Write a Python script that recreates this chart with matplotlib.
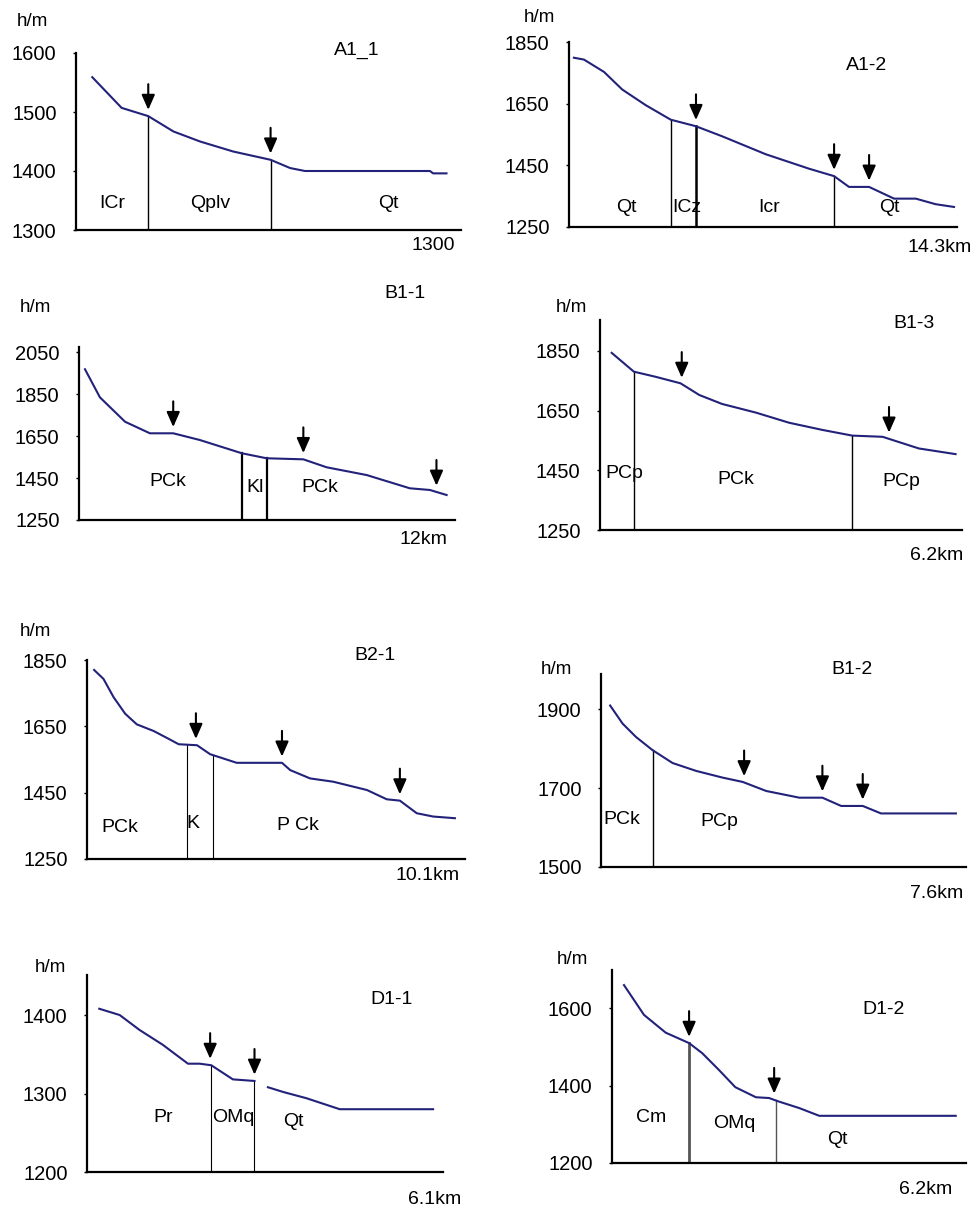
import matplotlib.pyplot as plt
import numpy as np

plt.rcParams['font.family'] = ['Liberation Sans', 'DejaVu Sans']

W, H = 978, 1211

# profile A1_1 (distance in m)
a11_x = [55, 154, 244, 329, 419, 531, 657, 723, 773, 1195, 1206, 1251]
a11_h = [1559, 1507, 1493, 1467, 1450, 1433, 1419, 1405, 1400, 1400, 1396, 1396]
a11_contacts = [244, 657]
a11_knicks = [244, 657]
a11_units = ['ICr', 'Qplv', 'Qt']
a11_yticks = [1300, 1400, 1500, 1600]

# profile A1-2 (km)
a12_x = [0.18, 0.55, 1.29, 1.96, 2.83, 3.75, 4.67, 5.65, 7.25, 8.85, 9.77, 10.32, 11.06, 11.98, 12.78, 13.51, 14.19]
a12_h = [1799, 1793, 1753, 1696, 1645, 1598, 1577, 1544, 1486, 1439, 1415, 1380, 1380, 1342, 1342, 1324, 1315]
a12_contacts = [3.76, 4.68, 9.77]
a12_knicks = [4.68, 9.77, 11.06]
a12_units = ['Qt', 'ICz', 'Icr', 'Qt']
a12_yticks = [1250, 1450, 1650, 1850]

# profile B1-1
b11_x = [0.2, 0.7, 1.54, 2.37, 3.15, 4.04, 5.44, 6.27, 7.5, 8.28, 9.62, 11.06, 11.73, 12.29]
b11_h = [1968, 1834, 1718, 1663, 1663, 1631, 1568, 1544, 1539, 1501, 1464, 1401, 1393, 1369]
b11_contacts = [5.44, 6.3]
b11_knicks = [3.15, 7.5, 11.95]
b11_units = ['PCk', 'Kl', 'PCk']
b11_yticks = [1250, 1450, 1650, 1850, 2050]

# profile B1-3
b13_x = [0.2, 0.58, 0.95, 1.38, 1.7, 2.09, 2.67, 3.24, 3.81, 4.32, 4.84, 5.46, 6.09]
b13_h = [1843, 1780, 1763, 1741, 1702, 1672, 1643, 1609, 1585, 1566, 1562, 1523, 1504]
b13_contacts = [0.58, 4.32]
b13_knicks = [1.4, 4.95]
b13_units = ['PCp', 'PCk', 'PCp']
b13_yticks = [1250, 1450, 1650, 1850]

# profile B2-1
b21_x = [0.19, 0.44, 0.71, 1.02, 1.33, 1.78, 2.22, 2.45, 2.94, 3.29, 4.0, 5.21, 5.43, 5.96, 6.58, 7.48, 8.01, 8.36, 8.81, 9.25, 9.83]
b21_h = [1820, 1793, 1738, 1688, 1656, 1636, 1610, 1596, 1593, 1566, 1540, 1540, 1518, 1493, 1483, 1458, 1430, 1426, 1388, 1378, 1373]
b21_contacts = [2.66, 3.38]
b21_knicks = [2.91, 5.21, 8.36]
b21_units = ['PCk', 'K', 'P Ck']
b21_yticks = [1250, 1450, 1650, 1850]

# profile B1-2
b12_x = [0.19, 0.45, 0.73, 1.07, 1.49, 1.98, 2.53, 2.95, 3.44, 4.13, 4.61, 5.0, 5.45, 5.83, 7.39]
b12_h = [1910, 1864, 1830, 1797, 1764, 1744, 1727, 1716, 1693, 1676, 1676, 1655, 1655, 1636, 1636]
b12_contacts = [1.08]
b12_knicks = [2.98, 4.61, 5.45]
b12_units = ['PCk', 'PCp']
b12_yticks = [1500, 1700, 1900]

# profile D1-1 (line is broken after OMq)
d11_x = [0.21, 0.56, 0.9, 1.3, 1.73, 1.93, 2.13, 2.5, 2.87, 2.98, 3.1, 3.36, 3.76, 4.33, 5.93]
d11_h = [1408, 1400, 1381, 1362, 1338, 1338, 1336, 1318, 1316, np.nan, 1308, 1302, 1294, 1280, 1280]
d11_contacts = [2.13, 2.87]
d11_knicks = [2.11, 2.87]
d11_units = ['Pr', 'OMq', 'Qt']
d11_yticks = [1200, 1300, 1400]

# profile D1-2
d12_x = [0.21, 0.56, 0.94, 1.35, 1.58, 1.87, 2.16, 2.52, 2.75, 2.92, 3.28, 3.63, 6.02]
d12_h = [1660, 1583, 1537, 1510, 1484, 1441, 1396, 1370, 1368, 1359, 1342, 1322, 1322]
d12_contacts = [1.34, 2.87]
d12_knicks = [1.35, 2.84]
d12_units = ['Cm', 'OMq', 'Qt']
d12_yticks = [1200, 1400, 1600]


def fxy(x, y):
    # pixel position -> figure fraction
    return x / W, 1 - y / H


def height_at(xs, hs, x0):
    xs = np.asarray(xs, float)
    hs = np.asarray(hs, float)
    ok = ~np.isnan(hs)
    return np.interp(x0, xs[ok], hs[ok])


def draw_panel(fig, p):
    x0, x1, y0, y1 = p['box']
    ax = fig.add_axes([x0 / W, 1 - y1 / H, (x1 - x0) / W, (y1 - y0) / H])
    ax.set_xlim(*p['xlim'])
    ax.set_ylim(*p['ylim'])
    for s in ['top', 'right']:
        ax.spines[s].set_visible(False)
    for s in ['left', 'bottom']:
        ax.spines[s].set_linewidth(1.6)
        ax.spines[s].set_color('black')
    ax.set_xticks([])
    ax.set_yticks(p['yticks'])
    ax.tick_params(axis='y', length=2, width=1, pad=12, labelsize=14.5)
    ax.patch.set_alpha(0)

    ax.plot(p['x'], p['h'], color='#22227a', lw=1.5, zorder=3)

    for c, lw in zip(p['contacts'], p['clw']):
        top = height_at(p['x'], p['h'], c)
        ax.plot([c, c], [p['ylim'][0], top], color=p.get('ccol', 'black'), lw=lw, zorder=2)

    for k in p['knicks']:
        top = height_at(p['x'], p['h'], k)
        ax.annotate('', xy=(k, top), xytext=(0, 23), textcoords='offset points',
                    xycoords='data',
                    arrowprops=dict(arrowstyle='-|>,head_length=0.5,head_width=0.22',
                                    color='black', lw=1.5,
                                    mutation_scale=18, shrinkA=0, shrinkB=4.5))

    for name, (ux, uy) in zip(p['units'], p['unit_pos']):
        fig.text(*fxy(ux, uy), name, ha='center', va='center', fontsize=14)

    fig.text(*fxy(*p['title_pos']), p['title'], ha='center', va='center', fontsize=14)
    fig.text(*fxy(*p['hm_pos']), 'h/m', ha='center', va='center', fontsize=13.5)
    fig.text(*fxy(*p['km_pos']), p['km'], ha='center', va='center', fontsize=14)
    return ax


def main():
    fig = plt.figure(figsize=(W / 100, H / 100), dpi=100)
    fig.patch.set_facecolor('white')

    panels = [
        dict(box=(76, 461, 53, 230), xlim=(0, 1300), ylim=(1300, 1600),
             x=a11_x, h=a11_h, yticks=a11_yticks,
             contacts=a11_contacts, clw=[1.0, 1.0], knicks=a11_knicks,
             units=a11_units, unit_pos=[(112, 204), (210, 204), (388, 204)],
             title='A1_1', title_pos=(357, 50), hm_pos=(32, 22), km='1300', km_pos=(433, 245)),
        dict(box=(569, 957, 42, 227), xlim=(0, 14.3), ylim=(1250, 1850),
             x=a12_x, h=a12_h, yticks=a12_yticks,
             contacts=a12_contacts, clw=[1.0, 1.8, 1.0], knicks=a12_knicks,
             units=a12_units, unit_pos=[(626, 207), (687, 207), (769, 207), (889, 207)],
             title='A1-2', title_pos=(867, 65), hm_pos=(539, 18), km='14.3km', km_pos=(940, 247)),
        dict(box=(79, 455, 347, 520), xlim=(0, 12.57), ylim=(1250, 2074),
             x=b11_x, h=b11_h, yticks=b11_yticks,
             contacts=b11_contacts, clw=[1.6, 1.6], knicks=b11_knicks,
             units=b11_units, unit_pos=[(168, 482), (255, 488), (320, 488)],
             title='B1-1', title_pos=(405, 293), hm_pos=(35, 307), km='12km', km_pos=(423, 540)),
        dict(box=(600, 962, 320, 530), xlim=(0, 6.2), ylim=(1250, 1953),
             x=b13_x, h=b13_h, yticks=b13_yticks,
             contacts=b13_contacts, clw=[1.0, 1.0], knicks=b13_knicks,
             units=b13_units, unit_pos=[(624, 473), (736, 480), (901, 482)],
             title='B1-3', title_pos=(914, 323), hm_pos=(571, 307), km='6.2km', km_pos=(937, 555)),
        dict(box=(87, 465, 660, 859), xlim=(0, 10.1), ylim=(1250, 1847),
             x=b21_x, h=b21_h, yticks=b21_yticks,
             contacts=b21_contacts, clw=[0.8, 0.8], knicks=b21_knicks,
             units=b21_units, unit_pos=[(120, 827), (193, 823), (298, 825)],
             title='B2-1', title_pos=(375, 655), hm_pos=(35, 632), km='10.1km', km_pos=(428, 876)),
        dict(box=(601, 966, 674, 867), xlim=(0, 7.6), ylim=(1500, 1990),
             x=b12_x, h=b12_h, yticks=b12_yticks,
             contacts=b12_contacts, clw=[1.0], knicks=b12_knicks,
             units=b12_units, unit_pos=[(622, 820), (719, 821)],
             title='B1-2', title_pos=(852, 670), hm_pos=(556, 670), km='7.6km', km_pos=(937, 893)),
        dict(box=(87, 443, 975, 1172), xlim=(0, 6.1), ylim=(1200, 1451),
             x=d11_x, h=d11_h, yticks=d11_yticks,
             contacts=d11_contacts, clw=[0.8, 0.8], knicks=d11_knicks,
             units=d11_units, unit_pos=[(163, 1117), (233, 1117), (293, 1121)],
             title='D1-1', title_pos=(392, 1000), hm_pos=(50, 967), km='6.1km', km_pos=(435, 1200)),
        dict(box=(612, 966, 970, 1163), xlim=(0, 6.2), ylim=(1200, 1699),
             x=d12_x, h=d12_h, yticks=d12_yticks,
             contacts=d12_contacts, clw=[2.0, 1.0], ccol='#555555', knicks=d12_knicks,
             units=d12_units, unit_pos=[(651, 1117), (734, 1123), (837, 1140)],
             title='D1-2', title_pos=(884, 1010), hm_pos=(572, 960), km='6.2km', km_pos=(926, 1190)),
    ]

    for p in panels:
        draw_panel(fig, p)

    fig.savefig('out.png', dpi=100, facecolor='white')


if __name__ == '__main__':
    main()
